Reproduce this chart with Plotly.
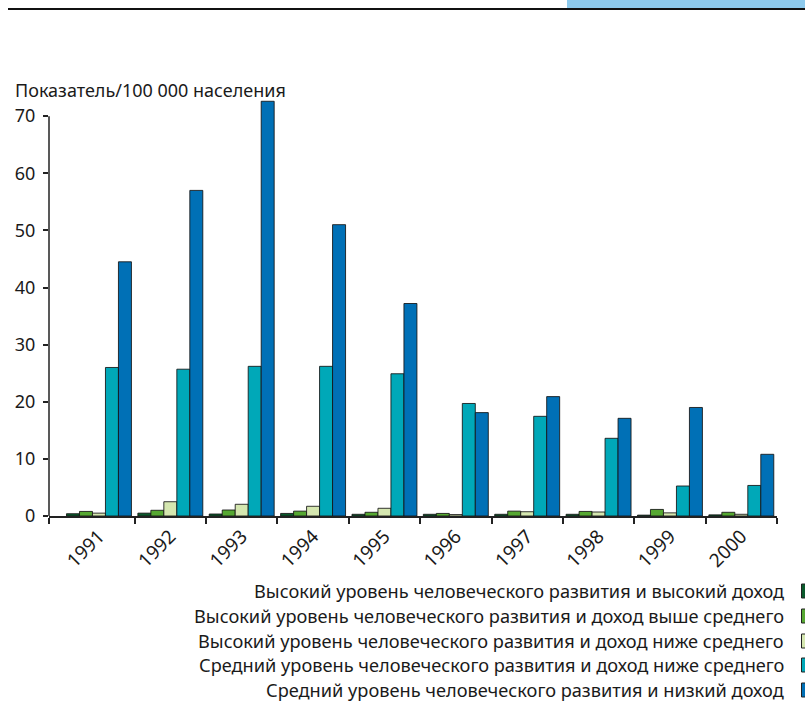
import plotly.graph_objects as go

years = ["1991", "1992", "1993", "1994", "1995", "1996", "1997", "1998", "1999", "2000"]

series_names = [
    "Высокий уровень человеческого развития и высокий доход",
    "Высокий уровень человеческого развития и доход выше среднего",
    "Высокий уровень человеческого развития и доход ниже среднего",
    "Средний уровень человеческого развития и доход ниже среднего",
    "Средний уровень человеческого развития и низкий доход",
]

high_dev_high_income = [0.4, 0.5, 0.35, 0.45, 0.3, 0.3, 0.3, 0.3, 0.15, 0.2]
high_dev_upper_mid_income = [0.8, 1.0, 1.05, 0.85, 0.65, 0.45, 0.85, 0.8, 1.15, 0.65]
high_dev_lower_mid_income = [0.5, 2.5, 2.05, 1.7, 1.35, 0.25, 0.75, 0.7, 0.55, 0.3]
mid_dev_lower_mid_income = [26.0, 25.7, 26.2, 26.2, 24.9, 19.7, 17.45, 13.6, 5.25, 5.35]
mid_dev_low_income = [44.5, 57.0, 72.6, 51.0, 37.2, 18.1, 20.9, 17.1, 19.0, 10.8]

series_values = [
    high_dev_high_income,
    high_dev_upper_mid_income,
    high_dev_lower_mid_income,
    mid_dev_lower_mid_income,
    mid_dev_low_income,
]
colors = ["#0a5a2c", "#56a832", "#d5e7b0", "#00a8b8", "#0070b6"]

y_ticks = [0, 10, 20, 30, 40, 50, 60, 70]
y_title = "Показатель/100 000 населения"

FONT = "Noto Sans"
TXT = "#1a1a1a"

x_pos = list(range(len(years)))
x_range = [-0.70, len(years) - 0.5]

fig = go.Figure()
for name, vals, col in zip(series_names, series_values, colors):
    fig.add_trace(go.Bar(
        x=x_pos, y=vals, name=name,
        marker=dict(color=col, line=dict(color="rgba(20,20,20,0.85)", width=1)),
        showlegend=False,
    ))

# plot area in pixels
W, H = 805, 708
L, R, T, B = 49, 28, 99, 192
pw, ph = W - L - R, H - T - B


def px_x(x):
    return (x - L) / pw


def px_y(y):
    return (H - B - y) / ph


shapes = [
    # y axis line, stops at the last tick
    dict(type="line", xref="paper", yref="y", x0=0, x1=0, y0=0, y1=70,
         line=dict(color="#222", width=1.5)),
    # header rule and accent block
    dict(type="line", xref="paper", yref="paper", x0=px_x(8), x1=px_x(805),
         y0=px_y(9), y1=px_y(9), line=dict(color="#111", width=2)),
    dict(type="rect", xref="paper", yref="paper", x0=px_x(567), x1=px_x(806),
         y0=px_y(8), y1=px_y(-2), line=dict(width=0), fillcolor="#8dcaed"),
]

annotations = [
    dict(text=y_title, xref="paper", yref="paper", x=px_x(13), y=px_y(90),
         xanchor="left", yanchor="middle", showarrow=False,
         font=dict(family=FONT, size=18, color=TXT)),
]

# legend: right-aligned labels with their swatches to the right
legend_y = [591, 616, 641, 665, 690]
for name, col, ly in zip(series_names, colors, legend_y):
    annotations.append(dict(
        text=name, xref="paper", yref="paper", x=px_x(786), y=px_y(ly),
        xanchor="right", yanchor="middle", showarrow=False,
        font=dict(family=FONT, size=18.2, color=TXT)))
    shapes.append(dict(
        type="rect", xref="paper", yref="paper", x0=px_x(801.5), x1=px_x(812),
        y0=px_y(ly + 7), y1=px_y(ly - 7), fillcolor=col,
        line=dict(color="#222", width=1)))

fig.update_layout(
    width=W, height=H, autosize=False,
    margin=dict(l=L, r=R, t=T, b=B),
    paper_bgcolor="white", plot_bgcolor="white",
    barmode="group", bargap=0.09, bargroupgap=0,
    font=dict(family=FONT, size=16, color=TXT),
    xaxis=dict(
        range=x_range, tickmode="array", tickvals=x_pos, ticktext=years,
        tickangle=-45, ticks="outside", ticklen=0,
        tickfont=dict(family=FONT, size=19, color=TXT),
        minor=dict(
            tickmode="array",
            tickvals=[x_range[0]] + [i + 0.5 for i in range(len(years))],
            ticks="outside", ticklen=6, tickwidth=1.5, tickcolor="#222",
            showgrid=False,
        ),
        showline=True, linecolor="#222", linewidth=1.5,
        showgrid=False, zeroline=False,
    ),
    yaxis=dict(
        range=[0, 73], tickmode="array", tickvals=y_ticks,
        ticks="outside", ticklen=5, tickwidth=1.5, tickcolor="#222",
        ticklabelstandoff=4,
        showline=False, showgrid=False, zeroline=False,
        tickfont=dict(family=FONT, size=18, color=TXT),
    ),
    shapes=shapes,
    annotations=annotations,
)

fig.write_html("out.html")
